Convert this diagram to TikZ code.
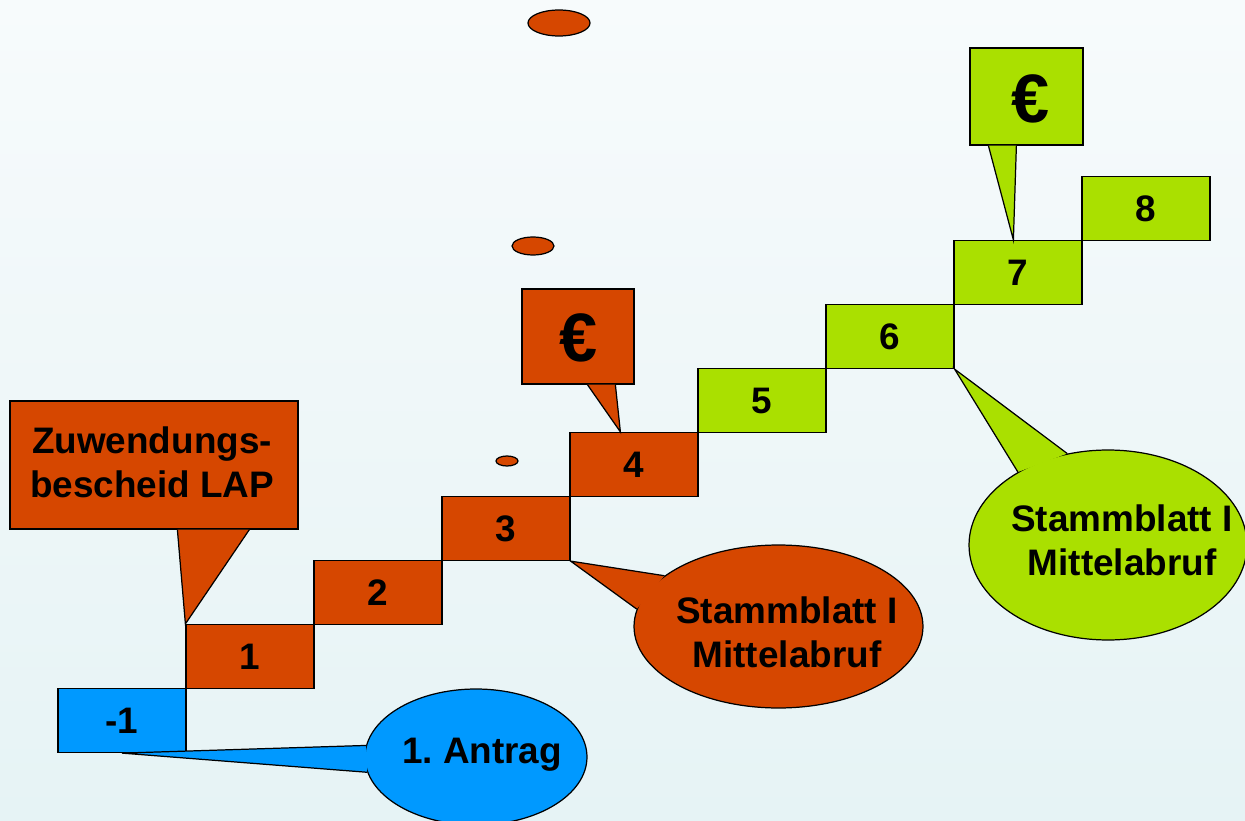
\documentclass[tikz,border=0pt]{standalone}
\usepackage{fontspec}
\setmainfont{Liberation Sans}
\usetikzlibrary{shapes.geometric}
\definecolor{lapbraun}{RGB}{214,71,0}
\definecolor{antragblau}{RGB}{0,153,255}
\definecolor{abrufgruen}{RGB}{170,224,0}
\definecolor{bgoben}{RGB}{247,251,252}
\definecolor{bgunten}{RGB}{230,243,245}
\begin{document}
\begin{tikzpicture}[x=0.02cm, y=-0.02cm, every node/.style={font=\bfseries\fontsize{21}{25}\selectfont, align=center},
		blase/.style={draw=black, line width=0.7pt},
		stufe/.style={blase, minimum width=2.56cm, minimum height=1.28cm, inner sep=0pt},
		sprechblase/.style={blase, ellipse, inner sep=0pt},
		euro/.style={font=\bfseries\fontsize{39}{44}\selectfont}]
	% Hintergrund
	\shade[top color=bgoben, bottom color=bgunten] (0,0) rectangle (1245,821);
	\useasboundingbox (0,0) rectangle (1245,821);
	% Punkte
	\draw[blase, fill=lapbraun] (559,23) ellipse [x radius=31, y radius=13];
	\draw[blase, fill=lapbraun] (533,246) ellipse [x radius=21, y radius=9];
	\draw[blase, fill=lapbraun] (507,461) ellipse [x radius=11, y radius=5];
	% Treppe
	\foreach \i/\nr/\farbe in {0/-1/antragblau,1/1/lapbraun,2/2/lapbraun,3/3/lapbraun,4/4/lapbraun,
			5/5/abrufgruen,6/6/abrufgruen,7/7/abrufgruen,8/8/abrufgruen}
		\node[stufe, fill=\farbe] (st\i) at ({122+128*\i}, {720.5-64*\i}) {\nr};
	% Zuwendungsbescheid
	\node[blase, fill=lapbraun, minimum width=5.76cm, minimum height=2.56cm] (bescheid) at (154,465) {};
	\draw[blase, fill=lapbraun] ([xshift=3.36cm]bescheid.south west) -- (st1.north west)
		-- ([xshift=4.8cm]bescheid.south west);
	\node (txtbescheid) at (152,462) {Zuwendungs-\\bescheid LAP};
	% Euro bei 4 und 7
	\node[blase, fill=lapbraun, minimum width=2.24cm, minimum height=1.9cm] (euroA) at (578,336.5) {};
	\draw[blase, fill=lapbraun] ([xshift=1.32cm]euroA.south west) -- ([xshift=1.02cm]st4.north west)
		-- ([xshift=1.88cm]euroA.south west);
	\node[euro] (txteuroA) at (579,338) {€};
	\node[blase, fill=abrufgruen, minimum width=2.26cm, minimum height=1.94cm] (euroB) at (1026.5,96.5) {};
	\draw[blase, fill=abrufgruen] ([xshift=0.38cm]euroB.south west) -- ([xshift=1.2cm]st7.north west)
		-- ([xshift=0.94cm]euroB.south west);
	\node[euro] (txteuroB) at (1031,99) {€};
	% Antrag
	\node[sprechblase, fill=antragblau, minimum width=4.44cm, minimum height=2.72cm] (antrag) at (476,757) {};
	\draw[blase, fill=antragblau] (antrag.174) -- (st0.south) -- (antrag.188);
	\node (txtantrag) at (482,755) {1.\ Antrag};
	% Stammblatt / Mittelabruf
	\node[sprechblase, fill=lapbraun, minimum width=5.78cm, minimum height=3.26cm] (abrufA) at (778.5,626.5) {};
	\draw[blase, fill=lapbraun] (abrufA.156) -- (st3.south east) -- (abrufA.173);
	\node (txtabrufA) at (787,632) {Stammblatt I\\Mittelabruf};
	\node[sprechblase, fill=abrufgruen, minimum width=5.56cm, minimum height=3.8cm] (abrufB) at (1108,545) {};
	\draw[blase, fill=abrufgruen] (abrufB.141) -- (st6.south east) -- (abrufB.114);
	\node (txtabrufB) at (1122,540) {Stammblatt I\\Mittelabruf};
\end{tikzpicture}
\end{document}
